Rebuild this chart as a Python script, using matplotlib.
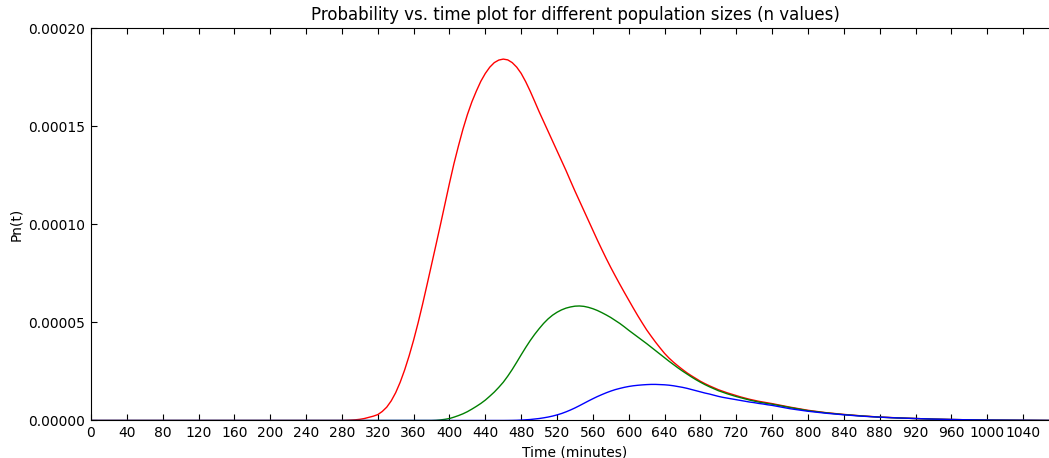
import matplotlib
matplotlib.use("Agg")
import matplotlib.pyplot as plt
from matplotlib.ticker import FixedLocator, MultipleLocator, FormatStrFormatter

# time grid (minutes)
times = [0,
         280, 285, 290, 295, 300, 305, 310, 315, 320, 325,
         330, 335, 340, 345, 350, 355, 360, 365, 370, 375,
         380, 385, 390, 395, 400, 405, 410, 415, 420, 425,
         430, 435, 440, 445, 450, 455, 460, 465, 470, 475,
         480, 485, 490, 495, 500, 505, 510, 515, 520, 525,
         530, 535, 540, 545, 550, 555, 560, 565, 570, 575,
         580, 585, 590, 595, 600, 605, 610, 615, 620, 625,
         630, 635, 640, 645, 650, 655, 660, 665, 670, 675,
         680, 685, 690, 695, 700, 705, 710, 715, 720, 725,
         730, 735, 740, 745, 750, 755, 760,
         780, 800, 820, 840, 860, 880, 900, 920, 940, 960, 980, 1000, 1040, 1080]

# probabilities, in units of 1e-5
p_red = [0,
         0, 0.01, 0.02, 0.035, 0.06, 0.1, 0.16, 0.22, 0.3, 0.46,
         0.68, 1.0, 1.42, 1.95, 2.58, 3.3, 4.1, 4.98, 5.93, 6.93,
         7.95, 8.97, 10.0, 11.05, 12.1, 13.1, 14.0, 14.85, 15.6, 16.25,
         16.8, 17.3, 17.7, 18.02, 18.25, 18.38, 18.43, 18.39, 18.25, 18.02,
         17.7, 17.28, 16.8, 16.28, 15.75, 15.25, 14.75, 14.25, 13.75, 13.25,
         12.75, 12.22, 11.7, 11.2, 10.7, 10.2, 9.7, 9.2, 8.72, 8.25,
         7.8, 7.37, 6.95, 6.54, 6.14, 5.74, 5.35, 4.98, 4.62, 4.3,
         3.99, 3.7, 3.42, 3.18, 2.97, 2.78, 2.6, 2.43, 2.28, 2.14,
         2.0, 1.88, 1.77, 1.67, 1.57, 1.49, 1.41, 1.34, 1.27, 1.2,
         1.14, 1.08, 1.03, 0.98, 0.94, 0.9, 0.86,
         0.68, 0.52, 0.4, 0.31, 0.235, 0.175, 0.135, 0.1, 0.07, 0.05, 0.035, 0.02, 0.01, 0.0]

p_green = [0,
           0, 0, 0, 0, 0, 0, 0, 0, 0, 0,
           0, 0, 0, 0, 0, 0, 0, 0, 0, 0,
           0, 0.01, 0.03, 0.06, 0.1, 0.17, 0.25, 0.34, 0.45, 0.58,
           0.72, 0.87, 1.04, 1.24, 1.45, 1.69, 1.95, 2.26, 2.6, 2.97,
           3.35, 3.72, 4.07, 4.39, 4.68, 4.95, 5.18, 5.37, 5.52, 5.64,
           5.73, 5.79, 5.83, 5.84, 5.82, 5.77, 5.7, 5.61, 5.5, 5.38,
           5.25, 5.1, 4.95, 4.78, 4.6, 4.43, 4.26, 4.09, 3.92, 3.74,
           3.56, 3.38, 3.2, 3.02, 2.85, 2.68, 2.52, 2.37, 2.22, 2.08,
           1.95, 1.83, 1.72, 1.62, 1.52, 1.44, 1.36, 1.29, 1.22, 1.16,
           1.1, 1.04, 0.99, 0.94, 0.9, 0.86, 0.83,
           0.66, 0.5, 0.39, 0.3, 0.23, 0.17, 0.13, 0.1, 0.07, 0.05, 0.035, 0.02, 0.01, 0.0]

p_blue = [0,
          0, 0, 0, 0, 0, 0, 0, 0, 0, 0,
          0, 0, 0, 0, 0, 0, 0, 0, 0, 0,
          0, 0, 0, 0, 0, 0, 0, 0, 0, 0,
          0, 0, 0, 0, 0, 0, 0, 0.002, 0.005, 0.01,
          0.02, 0.035, 0.05, 0.075, 0.1, 0.135, 0.175, 0.225, 0.285, 0.355,
          0.44, 0.535, 0.64, 0.755, 0.875, 0.995, 1.11, 1.22, 1.32, 1.415,
          1.5, 1.575, 1.635, 1.69, 1.735, 1.77, 1.795, 1.815, 1.83, 1.84,
          1.84, 1.83, 1.82, 1.8, 1.77, 1.73, 1.69, 1.64, 1.58, 1.52,
          1.46, 1.4, 1.35, 1.29, 1.23, 1.18, 1.14, 1.1, 1.06, 1.02,
          0.98, 0.94, 0.91, 0.87, 0.84, 0.8, 0.77,
          0.6, 0.47, 0.37, 0.29, 0.22, 0.17, 0.13, 0.1, 0.07, 0.05, 0.035, 0.02, 0.01, 0.0]

x_ticks = [0, 40, 80, 120, 160, 200, 240, 280, 320, 360, 400, 440, 480, 520,
           560, 600, 640, 680, 720, 760, 800, 840, 880, 920, 960, 1000, 1040]

scale = 1e-5

fig = plt.figure(figsize=(10.49, 4.58), dpi=100)
# axes run a little past the right edge, like the cropped original
ax = fig.add_axes([0.0867, 0.0819, 0.9228, 0.8563])

ax.plot(times, [v * scale for v in p_red], color="r", linewidth=1)
ax.plot(times, [v * scale for v in p_green], color="g", linewidth=1)
ax.plot(times, [v * scale for v in p_blue], color="b", linewidth=1)

ax.set_xlim(0, 1080)
ax.set_ylim(0, 0.0002)
ax.xaxis.set_major_locator(FixedLocator(x_ticks))
ax.yaxis.set_major_locator(MultipleLocator(0.00005))
ax.yaxis.set_major_formatter(FormatStrFormatter("%.5f"))
ax.tick_params(direction="in", top=True, right=True, length=4, width=0.8,
               labelsize=10, pad=4)

ax.set_title("Probability vs. time plot for different population sizes (n values)",
             fontsize=12)
ax.set_xlabel("Time (minutes)", fontsize=10)
ax.set_ylabel("Pn(t)", fontsize=10)

fig.savefig("out.png", dpi=100)
